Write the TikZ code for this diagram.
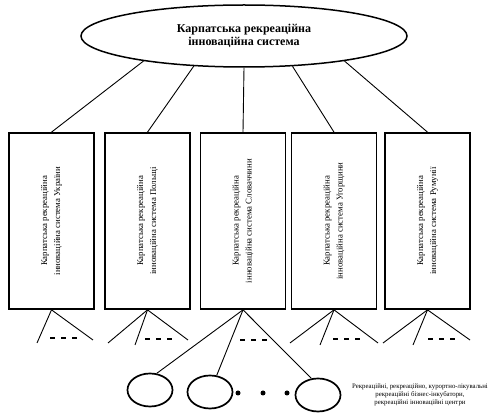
\documentclass[tikz,border=0pt]{standalone}
\usepackage{fontspec}
\setmainfont{Liberation Serif}
\usetikzlibrary{shapes.geometric}
\begin{document}
\begin{tikzpicture}[x=1pt,y=-1pt,
  topell/.style={draw, ellipse, line width=1.5pt, minimum width=326pt, minimum height=62pt, inner sep=0pt, align=center, font=\fontsize{12}{13}\selectfont\bfseries},
  cbox/.style={draw, line width=1.7pt, minimum width=85pt, minimum height=176pt, inner sep=0pt},
  vtext/.style={rotate=90, align=center, font=\fontsize{8.8}{13}\selectfont},
  conn/.style={line width=0.9pt},
  dashmark/.style={line width=1.5pt, dash pattern=on 5pt off 6pt},
  unit/.style={draw, ellipse, line width=1.7pt, minimum width=45pt, minimum height=33pt, inner sep=0pt},
  bigdot/.style={fill, circle, inner sep=0pt, minimum size=5pt},
  note/.style={align=center, font=\fontsize{6.8}{8}\selectfont}]
\useasboundingbox (0,0) rectangle (499,414);
\node[topell] (ell) at (244,36) {Карпатська рекреаційна\\інноваційна система};
\node[cbox] (b1) at (51.5,221) {};
\node[cbox] (b2) at (147.5,221) {};
\node[cbox] (b3) at (243,221) {};
\node[cbox] (b4) at (334,221) {};
\node[cbox] (b5) at (427.5,221) {};
\node[vtext] (t1) at (b1.center) {Карпатська рекреаційна\\інноваційна система України};
\node[vtext] (t2) at (b2.center) {Карпатська рекреаційна\\інноваційна система Польщі};
\node[vtext] (t3) at (b3.center) {Карпатська рекреаційна\\інноваційна система Словаччини};
\node[vtext] (t4) at (b4.center) {Карпатська рекреаційна\\інноваційна система Угорщини};
\node[vtext] (t5) at (b5.center) {Карпатська рекреаційна\\інноваційна система Румунії};
\draw[conn] (ell.194) -- (b1.north);
\draw[conn] (ell.211) -- (b2.north);
\draw[conn] (ell.270) -- (b3.north);
\draw[conn] (ell.328) -- (b4.north);
\draw[conn] (ell.346) -- (b5.north);
% fans
\coordinate (f1a) at (37,343); \coordinate (f1c) at (93,340);
\draw[conn] (b1.south) -- (f1a); \draw[conn] (b1.south) -- (f1c);
\draw[dashmark] (50,338) -- (80,338);
\coordinate (f2a) at (108,343); \coordinate (f2b) at (135,345); \coordinate (f2c) at (188,340);
\draw[conn] (b2.south) -- (f2a); \draw[conn] (b2.south) -- (f2b); \draw[conn] (b2.south) -- (f2c);
\draw[dashmark] (145,339) -- (175,339);
\coordinate (f4a) at (290,343); \coordinate (f4b) at (320,345); \coordinate (f4c) at (378,343);
\draw[conn] (b4.south) -- (f4a); \draw[conn] (b4.south) -- (f4b); \draw[conn] (b4.south) -- (f4c);
\draw[dashmark] (333,339) -- (363,339);
\coordinate (f5a) at (383,343); \coordinate (f5b) at (413,345); \coordinate (f5c) at (470,340);
\draw[conn] (b5.south) -- (f5a); \draw[conn] (b5.south) -- (f5b); \draw[conn] (b5.south) -- (f5c);
\draw[dashmark] (428,339) -- (458,339);
\draw[dashmark] (240,340) -- (270,340);
% units
\node[unit] (c1) at (150,390) {};
\node[unit] (c2) at (210,392) {};
\node[unit] (c3) at (318,395) {};
\draw[conn] (b3.south) -- (c1.68);
\draw[conn] (b3.south) -- (c2.68);
\draw[conn] (b3.south) -- (c3.112);
\node[bigdot] (d1) at (238,393) {};
\node[bigdot] (d2) at (263,393) {};
\node[bigdot] (d3) at (287,393) {};
\node[note] (txt) at (420,395) {Рекреаційні, рекреаційно, курортно-лікувальні\\рекреаційні бізнес-інкубатори,\\рекреаційні інноваційні центри};
\end{tikzpicture}
\end{document}
